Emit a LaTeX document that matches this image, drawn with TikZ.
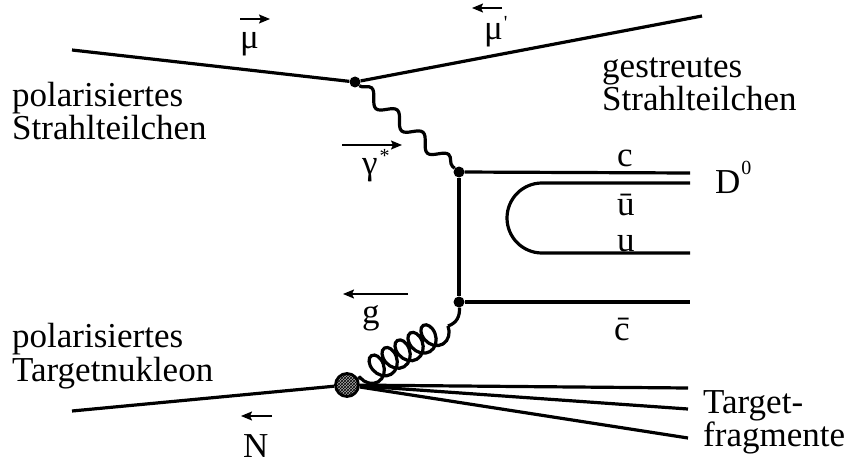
\documentclass[tikz,border=0pt]{standalone}
\usepackage{fontspec}
\setmainfont{Liberation Serif}
\usetikzlibrary{decorations.pathmorphing, arrows.meta, patterns}
\begin{document}
\begin{tikzpicture}[x=1pt, y=-1pt,
  lbl/.style={font=\fontsize{35}{40}\selectfont, inner sep=0, anchor=base west},
  line/.style={line width=3.2pt},
  mom/.style={line width=1.6pt, -{Stealth[length=11pt,width=9pt,inset=2pt]}},
  dot/.style={circle, fill=black, inner sep=0, minimum size=11pt}]
\newcommand{\supx}[2][14pt]{\raisebox{#1}{\fontsize{20}{20}\selectfont #2}}
\useasboundingbox (0,0) rectangle (850,465);

% vertices
\node[dot] (A) at (355,82) {};
\node[dot] (B) at (459,172) {};
\node[dot] (C) at (459,302) {};
\node[circle, draw, line width=2.8pt, minimum size=23pt, inner sep=0,
      preaction={fill=gray!65}, pattern=crosshatch, pattern color=black] (bl) at (347,385) {};

% end points
\coordinate (muin) at (72,50);
\coordinate (muout) at (702,16);
\coordinate (cend) at (690,173);
\coordinate (ubs) at (542,183);
\coordinate (ube) at (690,183);
\coordinate (us) at (542,253);
\coordinate (ue) at (690,253);
\coordinate (cbe) at (690,302);
\coordinate (Nin) at (72,411);
\coordinate (f1) at (688,388);
\coordinate (f2) at (688,409);
\coordinate (f3) at (688,438);
\coordinate (g1) at (448,326);

% lepton lines
\draw[line] (muin) -- (A) -- (muout);
% photon
\draw[line, decorate, decoration={snake, segment length=34pt, amplitude=6.5pt}] (A) -- (B);
% quark lines
\draw[line] (B) -- (C);
\draw[line] (B) -- (cend);
\draw[line] (C) -- (cbe);
\draw[line] (ube) -- (ubs) arc[start angle=-90, end angle=-270, radius=35] -- (ue);
% gluon
\draw[line] (C) .. controls (460,316) and (457,323) .. (g1);
\draw[line, decorate, decoration={coil, amplitude=13pt, segment length=15pt, aspect=0.75}] (g1) -- (bl);
% nucleon and fragments
\draw[line] (Nin) -- (bl);
\draw[line] (bl) -- (f1);
\draw[line] (bl) -- (f2);
\draw[line] (bl) -- (f3);

% momentum arrows
\coordinate (ma1) at (240,19); \coordinate (ma2) at (270,19);
\draw[mom] (ma1) -- (ma2);
\coordinate (mb1) at (502,8); \coordinate (mb2) at (472,8);
\draw[mom] (mb1) -- (mb2);
\coordinate (ga1) at (342,145); \coordinate (ga2) at (402,145);
\draw[mom] (ga1) -- (ga2);
\coordinate (gl1) at (408,294); \coordinate (gl2) at (343,294);
\draw[mom] (gl1) -- (gl2);
\coordinate (na1) at (272,416); \coordinate (na2) at (241,416);
\draw[mom] (na1) -- (na2);

% labels
\node[lbl] (t1) at (12,107) {polarisiertes};
\node[lbl] (t2) at (12,140) {Strahlteilchen};
\node[lbl] (t3) at (602,78) {gestreutes};
\node[lbl] (t4) at (602,111) {Strahlteilchen};
\node[lbl] (t5) at (12,347) {polarisiertes};
\node[lbl] (t6) at (12,381) {Targetnukleon};
\node[lbl] (t7) at (703,413) {Target-};
\node[lbl] (t8) at (703,446) {fragmente};
\node[lbl] (lmu) at (240,49) {μ};
\node[lbl] (lmup) at (484,40) {μ\kern1pt\supx[10pt]{\textquotesingle}};
\node[lbl] (lga) at (362,175) {γ\kern2pt\supx[12pt]{*}};
\node[lbl] (lD) at (715,193) {D\kern1pt\supx[18pt]{0}};
\node[lbl] (lc) at (617,167) {c};
\node[lbl] (lub) at (617,215) {ū};
\node[lbl] (lu) at (617,251) {u};
\node[lbl] (lcb) at (614,340) {c̄};
\node[lbl] (lg) at (362,323) {g};
\node[lbl] (lN) at (243,457) {N};
\end{tikzpicture}
\end{document}
